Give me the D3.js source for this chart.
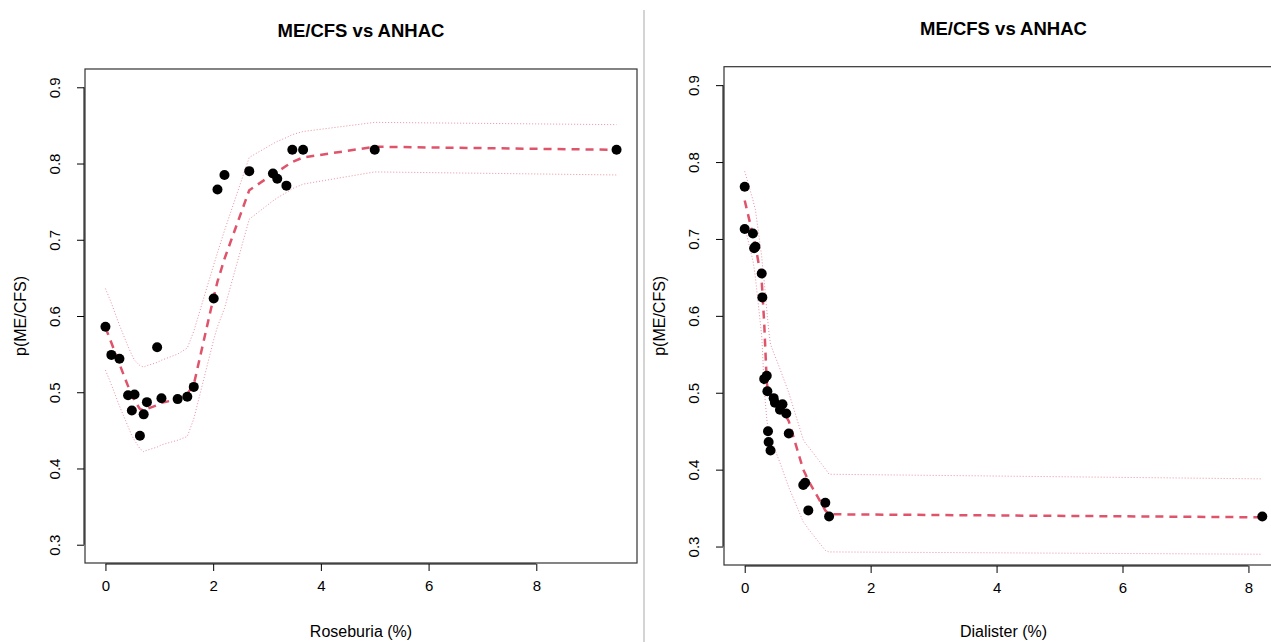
<!DOCTYPE html>
<html>
<head>
    <meta charset="utf-8">
    <title>ME/CFS vs ANHAC</title>
    <script src="https://d3js.org/d3.v7.min.js"></script>
</head>
<style>
    body { margin: 0; background: #fff; }
    svg text { font-family: "Liberation Sans", Arial, sans-serif; fill: #000; }
</style>
<body>
    <svg id="chart" width="1271" height="642"></svg>
    <script>
        // ---- data: Roseburia panel ----
        var roseX = [0, 0.11, 0.26, 0.42, 0.49, 0.54, 0.64, 0.71, 0.77, 0.96, 1.04, 1.34, 1.52, 1.64,
            2.01, 2.08, 2.21, 2.67, 3.11, 3.19, 3.36, 3.47, 3.67, 5.0, 9.49];
        var roseY = [0.586, 0.549, 0.544, 0.496, 0.476, 0.497, 0.443, 0.471, 0.487, 0.559, 0.492, 0.491, 0.494, 0.507,
            0.623, 0.766, 0.785, 0.790, 0.787, 0.780, 0.771, 0.818, 0.818, 0.818, 0.818];
        var roseFit = [0.585, 0.565, 0.537, 0.508, 0.496, 0.489, 0.478, 0.476, 0.478, 0.483, 0.486, 0.491, 0.498, 0.51,
            0.625, 0.645, 0.675, 0.765, 0.786, 0.789, 0.797, 0.802, 0.808, 0.822, 0.818];
        var roseUp = [0.636, 0.617, 0.588, 0.560, 0.549, 0.542, 0.535, 0.533, 0.535, 0.539, 0.542, 0.550, 0.558, 0.58,
            0.667, 0.683, 0.712, 0.808, 0.826, 0.829, 0.834, 0.838, 0.842, 0.854, 0.851];
        var roseLo = [0.529, 0.510, 0.482, 0.455, 0.443, 0.437, 0.426, 0.422, 0.424, 0.428, 0.431, 0.437, 0.442, 0.465,
            0.569, 0.586, 0.610, 0.727, 0.751, 0.755, 0.762, 0.767, 0.773, 0.789, 0.785];

        // ---- data: Dialister panel ----
        var dialX = [0, 0, 0.13, 0.15, 0.17, 0.27, 0.28, 0.31, 0.35, 0.36, 0.37, 0.38, 0.41, 0.46, 0.48,
            0.56, 0.60, 0.66, 0.70, 0.93, 0.96, 1.01, 1.28, 1.34, 8.22];
        var dialY = [0.768, 0.713, 0.707, 0.688, 0.690, 0.655, 0.624, 0.518, 0.522, 0.502, 0.450, 0.436, 0.425, 0.493, 0.487,
            0.478, 0.485, 0.473, 0.447, 0.380, 0.383, 0.347, 0.357, 0.339, 0.339];
        var dialFitX = [0, 0.13, 0.15, 0.17, 0.27, 0.28, 0.31, 0.35, 0.36, 0.37, 0.38, 0.41, 0.46, 0.48,
            0.56, 0.60, 0.66, 0.70, 0.93, 0.96, 1.01, 1.28, 1.34, 8.22];
        var dialFit = [0.750, 0.705, 0.699, 0.692, 0.645, 0.632, 0.590, 0.514, 0.508, 0.503, 0.500, 0.495, 0.490, 0.488,
            0.480, 0.475, 0.469, 0.463, 0.400, 0.395, 0.386, 0.347, 0.342, 0.338];
        var dialUp = [0.788, 0.751, 0.744, 0.738, 0.677, 0.668, 0.645, 0.608, 0.599, 0.591, 0.582, 0.563, 0.552, 0.548,
            0.531, 0.522, 0.509, 0.500, 0.439, 0.435, 0.430, 0.401, 0.394, 0.388];
        var dialLo = [0.716, 0.672, 0.662, 0.650, 0.574, 0.560, 0.505, 0.466, 0.460, 0.455, 0.450, 0.442, 0.431, 0.426,
            0.409, 0.400, 0.386, 0.377, 0.332, 0.329, 0.323, 0.295, 0.293, 0.290];

        // ---- ticks ----
        var xTicks = [0, 2, 4, 6, 8];
        var yTicks = [0.3, 0.4, 0.5, 0.6, 0.7, 0.8, 0.9];

        var titleText = "ME/CFS vs ANHAC";
        var yLabel = "p(ME/CFS)";
        var lineColor = "#DF536B";

        var svg = d3.select("#chart");

        // divider between the two images
        svg.append("line")
            .attr("x1", 644).attr("x2", 644)
            .attr("y1", 10).attr("y2", 642)
            .attr("stroke", "#d4d4d4").attr("stroke-width", 2);

        drawPanel({ left: 85, top: 69, right: 637, bottom: 563, xMax: 9.49, titleY: 37, xLabel: "Roseburia (%)" },
            roseX, roseY, roseX, roseFit, roseUp, roseLo);
        drawPanel({ left: 724, top: 66.7, right: 1283, bottom: 565, xMax: 8.22, titleY: 35, xLabel: "Dialister (%)" },
            dialX, dialY, dialFitX, dialFit, dialUp, dialLo);

        function drawPanel(p, px, py, fx, fy, fu, fl) {
            // R style 4% padding on each axis
            var padX = p.xMax * 0.04;
            var x = d3.scaleLinear().domain([-padX, p.xMax + padX]).range([p.left, p.right]);
            var y = d3.scaleLinear().domain([0.3 - 0.024, 0.9 + 0.024]).range([p.bottom, p.top]);
            var g = svg.append("g");
            var cx = (p.left + p.right) / 2;

            g.append("text")
                .attr("x", cx).attr("y", p.titleY)
                .attr("text-anchor", "middle")
                .style("font-size", "18.5px").style("font-weight", "bold")
                .text(titleText);

            // bands and fit
            var line = d3.line().x(function (d) { return x(d[0]); }).y(function (d) { return y(d[1]); });
            [fu, fl].forEach(function (band) {
                g.append("path")
                    .attr("d", line(d3.zip(fx, band)))
                    .attr("fill", "none")
                    .attr("stroke", lineColor).attr("stroke-opacity", 0.65)
                    .attr("stroke-width", 1)
                    .attr("stroke-dasharray", "1,2");
            });
            g.append("path")
                .attr("d", line(d3.zip(fx, fy)))
                .attr("fill", "none")
                .attr("stroke", lineColor)
                .attr("stroke-width", 2.5)
                .attr("stroke-dasharray", "8,6");

            // points
            g.selectAll("circle.pt")
                .data(d3.zip(px, py))
                .enter().append("circle")
                .attr("class", "pt")
                .attr("cx", function (d) { return x(d[0]); })
                .attr("cy", function (d) { return y(d[1]); })
                .attr("r", 5)
                .attr("fill", "#000");

            // box
            g.append("rect")
                .attr("x", p.left).attr("y", p.top)
                .attr("width", p.right - p.left).attr("height", p.bottom - p.top)
                .attr("fill", "none").attr("stroke", "#333").attr("stroke-width", 1.2);

            // x axis (line only spans the ticks, like base R)
            var xAxis = d3.axisBottom(x).tickValues(xTicks).tickSize(7).tickPadding(9).tickFormat(d3.format("d"));
            var xa = g.append("g").attr("transform", "translate(0," + (p.bottom + 1) + ")").call(xAxis);
            xa.select(".domain").remove();
            xa.append("line").attr("x1", x(xTicks[0])).attr("x2", x(xTicks[xTicks.length - 1]))
                .attr("stroke", "#000");
            xa.selectAll("text").style("font-size", "15px").style("font-family", "Liberation Sans, Arial, sans-serif");

            var yAxis = d3.axisLeft(y).tickValues(yTicks).tickSize(7).tickFormat(d3.format(".1f"));
            var ya = g.append("g").attr("transform", "translate(" + (p.left - 1) + ",0)").call(yAxis);
            ya.select(".domain").remove();
            ya.append("line").attr("y1", y(yTicks[0])).attr("y2", y(yTicks[yTicks.length - 1]))
                .attr("stroke", "#000");
            ya.selectAll("text")
                .attr("x", null).attr("dy", null)
                .attr("text-anchor", "middle")
                .attr("transform", "translate(-24,0) rotate(-90)")
                .style("font-size", "15px").style("font-family", "Liberation Sans, Arial, sans-serif");

            g.append("text")
                .attr("x", cx).attr("y", 637)
                .attr("text-anchor", "middle")
                .style("font-size", "16px")
                .text(p.xLabel);

            g.append("text")
                .attr("transform", "translate(" + (p.left - 59) + "," + ((p.top + p.bottom) / 2) + ") rotate(-90)")
                .attr("text-anchor", "middle")
                .style("font-size", "16px")
                .text(yLabel);
        }
    </script>
</body>
</html>
